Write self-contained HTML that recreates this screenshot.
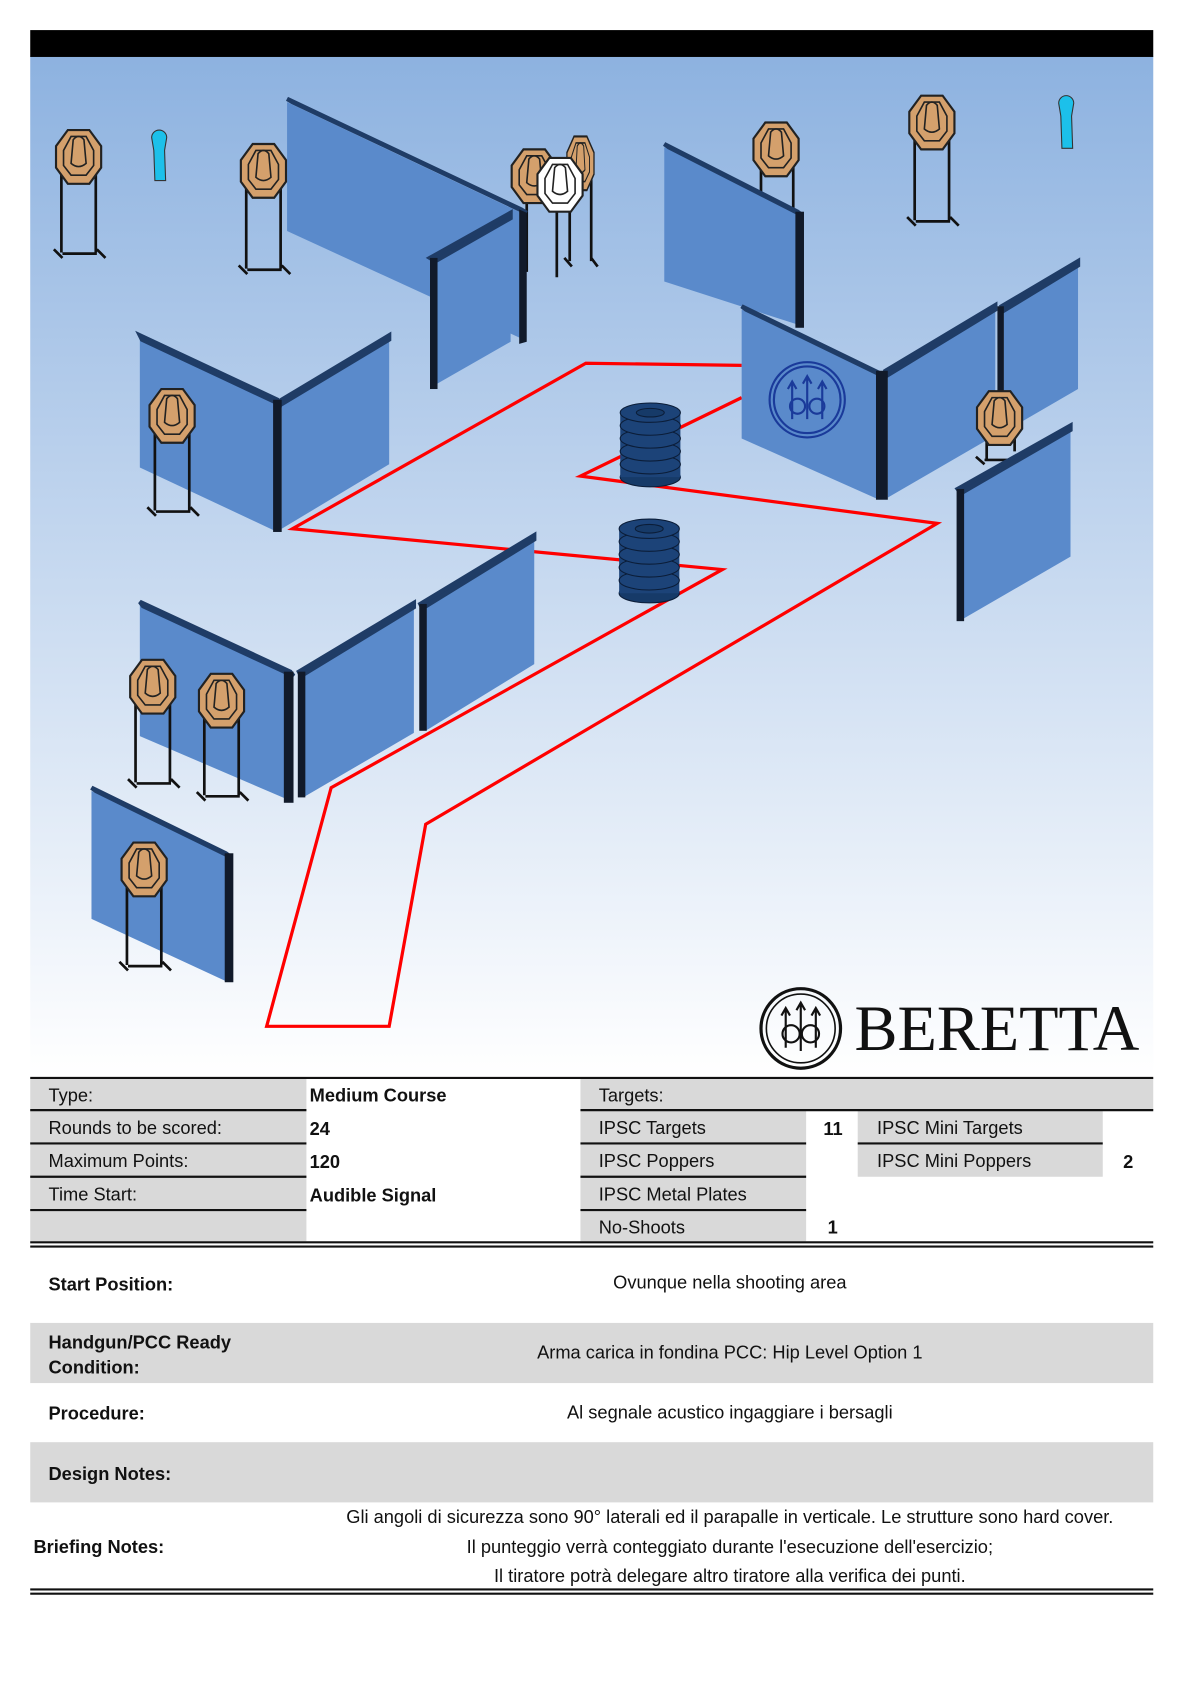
<!DOCTYPE html>
<html><head><meta charset="utf-8"><style>
html,body{margin:0;padding:0;background:#fff;}
svg{display:block;}
text{font-family:"Liberation Sans",Arial,sans-serif;}
text.serif{font-family:"Liberation Serif","DejaVu Serif",serif;}
</style></head><body>
<svg width="1191" height="1684" viewBox="0 0 1108 1567" xmlns="http://www.w3.org/2000/svg">
<defs>
<linearGradient id="bg" x1="0" y1="0" x2="0" y2="1">
<stop offset="0" stop-color="#8db2e0"/><stop offset="1" stop-color="#ffffff"/>
</linearGradient>
<g id="tgt">
<polygon points="-10,-25 10,-25 21,-10 21,10 10,25 -10,25 -21,10 -21,-10" fill="#d4a06c" stroke="#222" stroke-width="2"/>
<polygon points="-7,-19 7,-19 14,-6 14,8 7,17 -7,17 -14,8 -14,-6" fill="none" stroke="#222" stroke-width="1.5"/>
<path d="M-5,-16 Q0,-22 5,-16 L7,6 Q0,12 -7,6 Z" fill="none" stroke="#222" stroke-width="1.5"/>
</g>
<g id="tgtw">
<polygon points="-10,-25 10,-25 21,-10 21,10 10,25 -10,25 -21,10 -21,-10" fill="#fff" stroke="#222" stroke-width="2"/>
<polygon points="-7,-19 7,-19 14,-6 14,8 7,17 -7,17 -14,8 -14,-6" fill="none" stroke="#222" stroke-width="1.5"/>
<path d="M-5,-16 Q0,-22 5,-16 L7,6 Q0,12 -7,6 Z" fill="none" stroke="#222" stroke-width="1.5"/>
</g>
<g id="barrel">
<ellipse cx="0" cy="62" rx="28" ry="9" fill="#163a68" stroke="#0b1d38"/>
<rect x="-28" y="0" width="56" height="62" fill="#1c4378"/>
<ellipse cx="0" cy="50" rx="28" ry="9" fill="#1c4378" stroke="#0b1d38"/>
<ellipse cx="0" cy="38" rx="28" ry="9" fill="#1c4378" stroke="#0b1d38"/>
<ellipse cx="0" cy="26" rx="28" ry="9" fill="#1c4378" stroke="#0b1d38"/>
<ellipse cx="0" cy="14" rx="28" ry="9" fill="#1c4378" stroke="#0b1d38"/>
<ellipse cx="0" cy="2" rx="28" ry="9" fill="#1c4378" stroke="#0b1d38"/>
<ellipse cx="0" cy="2" rx="13" ry="4" fill="#163a68" stroke="#0b1d38"/>
</g>
</defs>
<rect x="0" y="0" width="1108" height="1567" fill="#fff"/>
<rect x="28" y="52" width="1045" height="950" fill="url(#bg)"/>
<rect x="28" y="28" width="1045" height="25" fill="#000"/>

<g stroke="#111" stroke-width="2.5" fill="none">
<path d="M57,145 V235 M89,145 V235 M50,232 L58,240 M90,232 L98,240 M58,236 H90"/>
<path d="M229,160 V250 M261,160 V250 M222,247 L230,255 M262,247 L270,255 M230,251 H262"/>
<path d="M851,115 V205 M883,115 V205 M844,202 L852,210 M884,202 L892,210 M852,206 H884"/>
<path d="M490,165 V253 M518,170 V258 M530,150 V243 M550,150 V243 M525,240 L532,248 M550,240 L556,248"/>
<path d="M708,140 V230 M738,140 V230"/>
</g>
<g>
<polygon points="267,95 485,198 485,315 267,215" fill="#5a8acb"/>
<polygon points="267,92 485,195 490,198 272,95" fill="#1f3c66" stroke="#1f3c66" stroke-width="4"/>
<polygon points="483,195 490,198 490,318 483,320" fill="#111a2a"/>
<polygon points="405,240 475,200 475,318 405,358" fill="#5a8acb"/>
<polygon points="400,240 475,198 475,203 405,243" fill="#1f3c66" stroke="#1f3c66" stroke-width="4"/>
<rect x="400" y="240" width="7" height="122" fill="#111a2a"/>
<polygon points="618,137 742,200 742,302 618,262" fill="#5a8acb"/>
<polygon points="618,134 742,197 746,200 622,137" fill="#1f3c66" stroke="#1f3c66" stroke-width="4"/>
<rect x="740" y="197" width="8" height="108" fill="#111a2a"/>
</g>
<use href="#tgt" x="73" y="146"/>
<use href="#tgt" x="245" y="159"/>
<use href="#tgt" x="867" y="114"/>
<use href="#tgt" x="722" y="139"/>
<use href="#tgt" x="540" y="152" transform="translate(540,152) scale(0.6,1) translate(-540,-152)"/>
<use href="#tgt" x="497" y="164"/>
<use href="#tgtw" x="521" y="172"/>
<path d="M143,140 L141,128 A7,7 0 1 1 155,128 L153,140 L154,168 L144,168 Z" fill="#1cc0ea" stroke="#333" stroke-width="1"/>
<path d="M987,108 L985,96 A7,7 0 1 1 999,96 L997,108 L998,138 L988,138 Z" fill="#1cc0ea" stroke="#333" stroke-width="1"/>

<polygon points="130,315 258,375 258,495 130,435" fill="#5a8acb"/>
<polygon points="130,312 258,372 260,376 132,316" fill="#1f3c66" stroke="#1f3c66" stroke-width="4"/>
<polygon points="262,375 362,315 362,432 262,492" fill="#5a8acb"/>
<polygon points="262,372 362,312 362,316 262,376" fill="#1f3c66" stroke="#1f3c66" stroke-width="4"/>
<rect x="254" y="372" width="8" height="123" fill="#111a2a"/>
<g stroke="#111" stroke-width="2.5" fill="none"><path d="M144,385 V475 M176,385 V475 M137,472 L145,480 M177,472 L185,480 M145,476 H177"/></g>
<use href="#tgt" x="160" y="387"/>

<polyline points="690,340 545,338 272,492 672,530 308,733 248,955 362,955 396,767 872,487 540,443 690,370" fill="none" stroke="#f00" stroke-width="3"/>

<use href="#barrel" x="605" y="382"/>
<use href="#barrel" x="604" y="490"/>

<polygon points="690,288 818,350 818,465 690,408" fill="#5a8acb"/>
<polygon points="690,285 818,347 822,350 694,288" fill="#1f3c66" stroke="#1f3c66" stroke-width="4"/>
<polygon points="826,347 926,287 926,405 826,463" fill="#5a8acb"/>
<polygon points="824,345 926,284 926,288 826,349" fill="#1f3c66" stroke="#1f3c66" stroke-width="4"/>
<rect x="815" y="345" width="11" height="120" fill="#111a2a"/>
<polygon points="934,287 1003,246 1003,362 934,402" fill="#5a8acb"/>
<polygon points="932,285 1003,243 1003,247 934,289" fill="#1f3c66" stroke="#1f3c66" stroke-width="4"/>
<rect x="928" y="285" width="6" height="115" fill="#111a2a"/>
<g fill="none" stroke="#1a3a9a" stroke-width="2">
<circle cx="751" cy="372" r="35"/><circle cx="751" cy="372" r="31"/>
<path d="M737,355 V390 M751,350 V390 M765,355 V390 M733,362 L737,355 L741,362 M747,357 L751,350 L755,357 M761,362 L765,355 L769,362"/>
<circle cx="742" cy="378" r="7"/><circle cx="760" cy="378" r="7"/>
</g>
<g stroke="#111" stroke-width="2.5" fill="none"><path d="M918,388 V428 M944,388 V420 M908,425 L916,432 M916,428 H944"/></g>
<use href="#tgt" x="930" y="389"/>
<polygon points="894,455 996,398 996,518 894,577" fill="#5a8acb"/>
<polygon points="891,455 996,396 996,400 894,459" fill="#1f3c66" stroke="#1f3c66" stroke-width="4"/>
<rect x="890" y="455" width="7" height="123" fill="#111a2a"/>

<polygon points="130,563 270,628 270,745 130,685" fill="#5a8acb"/>
<polygon points="130,560 270,625 273,629 133,564" fill="#1f3c66" stroke="#1f3c66" stroke-width="4"/>
<rect x="264" y="625" width="9" height="122" fill="#111a2a"/>
<polygon points="282,627 385,565 385,682 282,742" fill="#5a8acb"/>
<polygon points="278,625 385,561 385,565 280,629" fill="#1f3c66" stroke="#1f3c66" stroke-width="4"/>
<rect x="277" y="625" width="7" height="117" fill="#111a2a"/>
<polygon points="396,565 497,502 497,618 396,680" fill="#5a8acb"/>
<polygon points="391,562 497,498 497,502 393,566" fill="#1f3c66" stroke="#1f3c66" stroke-width="4"/>
<rect x="390" y="562" width="7" height="118" fill="#111a2a"/>
<g stroke="#111" stroke-width="2.5" fill="none">
<path d="M126,640 V728 M158,640 V728 M119,725 L127,733 M159,725 L167,733 M127,729 H159"/>
<path d="M190,652 V740 M222,652 V740 M183,737 L191,745 M223,737 L231,745 M191,741 H223"/>
</g>
<use href="#tgt" x="142" y="639"/>
<use href="#tgt" x="206" y="652"/>

<polygon points="85,736 210,797 210,913 85,855" fill="#5a8acb"/>
<polygon points="85,733 210,794 214,797 89,736" fill="#1f3c66" stroke="#1f3c66" stroke-width="4"/>
<rect x="209" y="794" width="8" height="120" fill="#111a2a"/>
<g stroke="#111" stroke-width="2.5" fill="none"><path d="M118,810 V898 M150,810 V898 M111,895 L119,903 M151,895 L159,903 M119,899 H151"/></g>
<use href="#tgt" x="134" y="809"/>

<g fill="none" stroke="#111" stroke-width="3">
<circle cx="745" cy="957" r="37"/><circle cx="745" cy="957" r="32" stroke-width="1.5"/>
<path d="M731,938 V975 M745,933 V978 M759,938 V975 M727,945 L731,938 L735,945 M741,940 L745,933 L749,940 M755,945 L759,938 L763,945" stroke-width="2"/>
<circle cx="736" cy="962" r="8" stroke-width="2"/><circle cx="754" cy="962" r="8" stroke-width="2"/>
</g>
<text class="serif" x="795" y="977" font-size="60" textLength="265" lengthAdjust="spacing" fill="#111">BERETTA</text>

<g fill="#d9d9d9">
<rect x="28" y="1003" width="257" height="152"/>
<rect x="540" y="1003" width="533" height="30"/>
<rect x="540" y="1033" width="210" height="122"/>
<rect x="798" y="1033" width="228" height="62"/>
<rect x="28" y="1231" width="1045" height="56"/>
<rect x="28" y="1342" width="1045" height="56"/>
</g>
<g stroke="#111" stroke-width="2">
<line x1="28" y1="1003" x2="1073" y2="1003"/>
<line x1="28" y1="1033" x2="285" y2="1033"/><line x1="540" y1="1033" x2="1073" y2="1033"/>
<line x1="28" y1="1064" x2="285" y2="1064"/><line x1="540" y1="1064" x2="750" y2="1064"/><line x1="798" y1="1064" x2="1026" y2="1064"/>
<line x1="28" y1="1095" x2="285" y2="1095"/><line x1="540" y1="1095" x2="750" y2="1095"/>
<line x1="28" y1="1126" x2="285" y2="1126"/><line x1="540" y1="1126" x2="750" y2="1126"/>
<line x1="28" y1="1156" x2="1073" y2="1156"/><line x1="28" y1="1160" x2="1073" y2="1160"/>
<line x1="28" y1="1479" x2="1073" y2="1479"/><line x1="28" y1="1483" x2="1073" y2="1483"/>
</g>
<g font-size="17" fill="#111">
<text x="45" y="1025">Type:</text>
<text x="45" y="1055">Rounds to be scored:</text>
<text x="45" y="1086">Maximum Points:</text>
<text x="45" y="1117">Time Start:</text>
<g font-weight="bold">
<text x="288" y="1025">Medium Course</text>
<text x="288" y="1056">24</text>
<text x="288" y="1087">120</text>
<text x="288" y="1118">Audible Signal</text>
<text x="766" y="1056">11</text>
<text x="1045" y="1087">2</text>
<text x="770" y="1148">1</text>
</g>
<text x="557" y="1025">Targets:</text>
<text x="557" y="1055">IPSC Targets</text>
<text x="557" y="1086">IPSC Poppers</text>
<text x="557" y="1117">IPSC Metal Plates</text>
<text x="557" y="1148">No-Shoots</text>
<text x="816" y="1055">IPSC Mini Targets</text>
<text x="816" y="1086">IPSC Mini Poppers</text>
<g font-weight="bold">
<text x="45" y="1201">Start Position:</text>
<text x="45" y="1255">Handgun/PCC Ready</text>
<text x="45" y="1278">Condition:</text>
<text x="45" y="1321">Procedure:</text>
<text x="45" y="1377">Design Notes:</text>
<text x="31" y="1445">Briefing Notes:</text>
</g>
<g text-anchor="middle">
<text x="679" y="1199">Ovunque nella shooting area</text>
<text x="679" y="1264">Arma carica in fondina PCC: Hip Level Option 1</text>
<text x="679" y="1320">Al segnale acustico ingaggiare i bersagli</text>
<text x="679" y="1417">Gli angoli di sicurezza sono 90° laterali ed il parapalle in verticale. Le strutture sono hard cover.</text>
<text x="679" y="1445">Il punteggio verrà conteggiato durante l'esecuzione dell'esercizio;</text>
<text x="679" y="1472">Il tiratore potrà delegare altro tiratore alla verifica dei punti.</text>
</g>
</g>
</svg>
</body></html>
